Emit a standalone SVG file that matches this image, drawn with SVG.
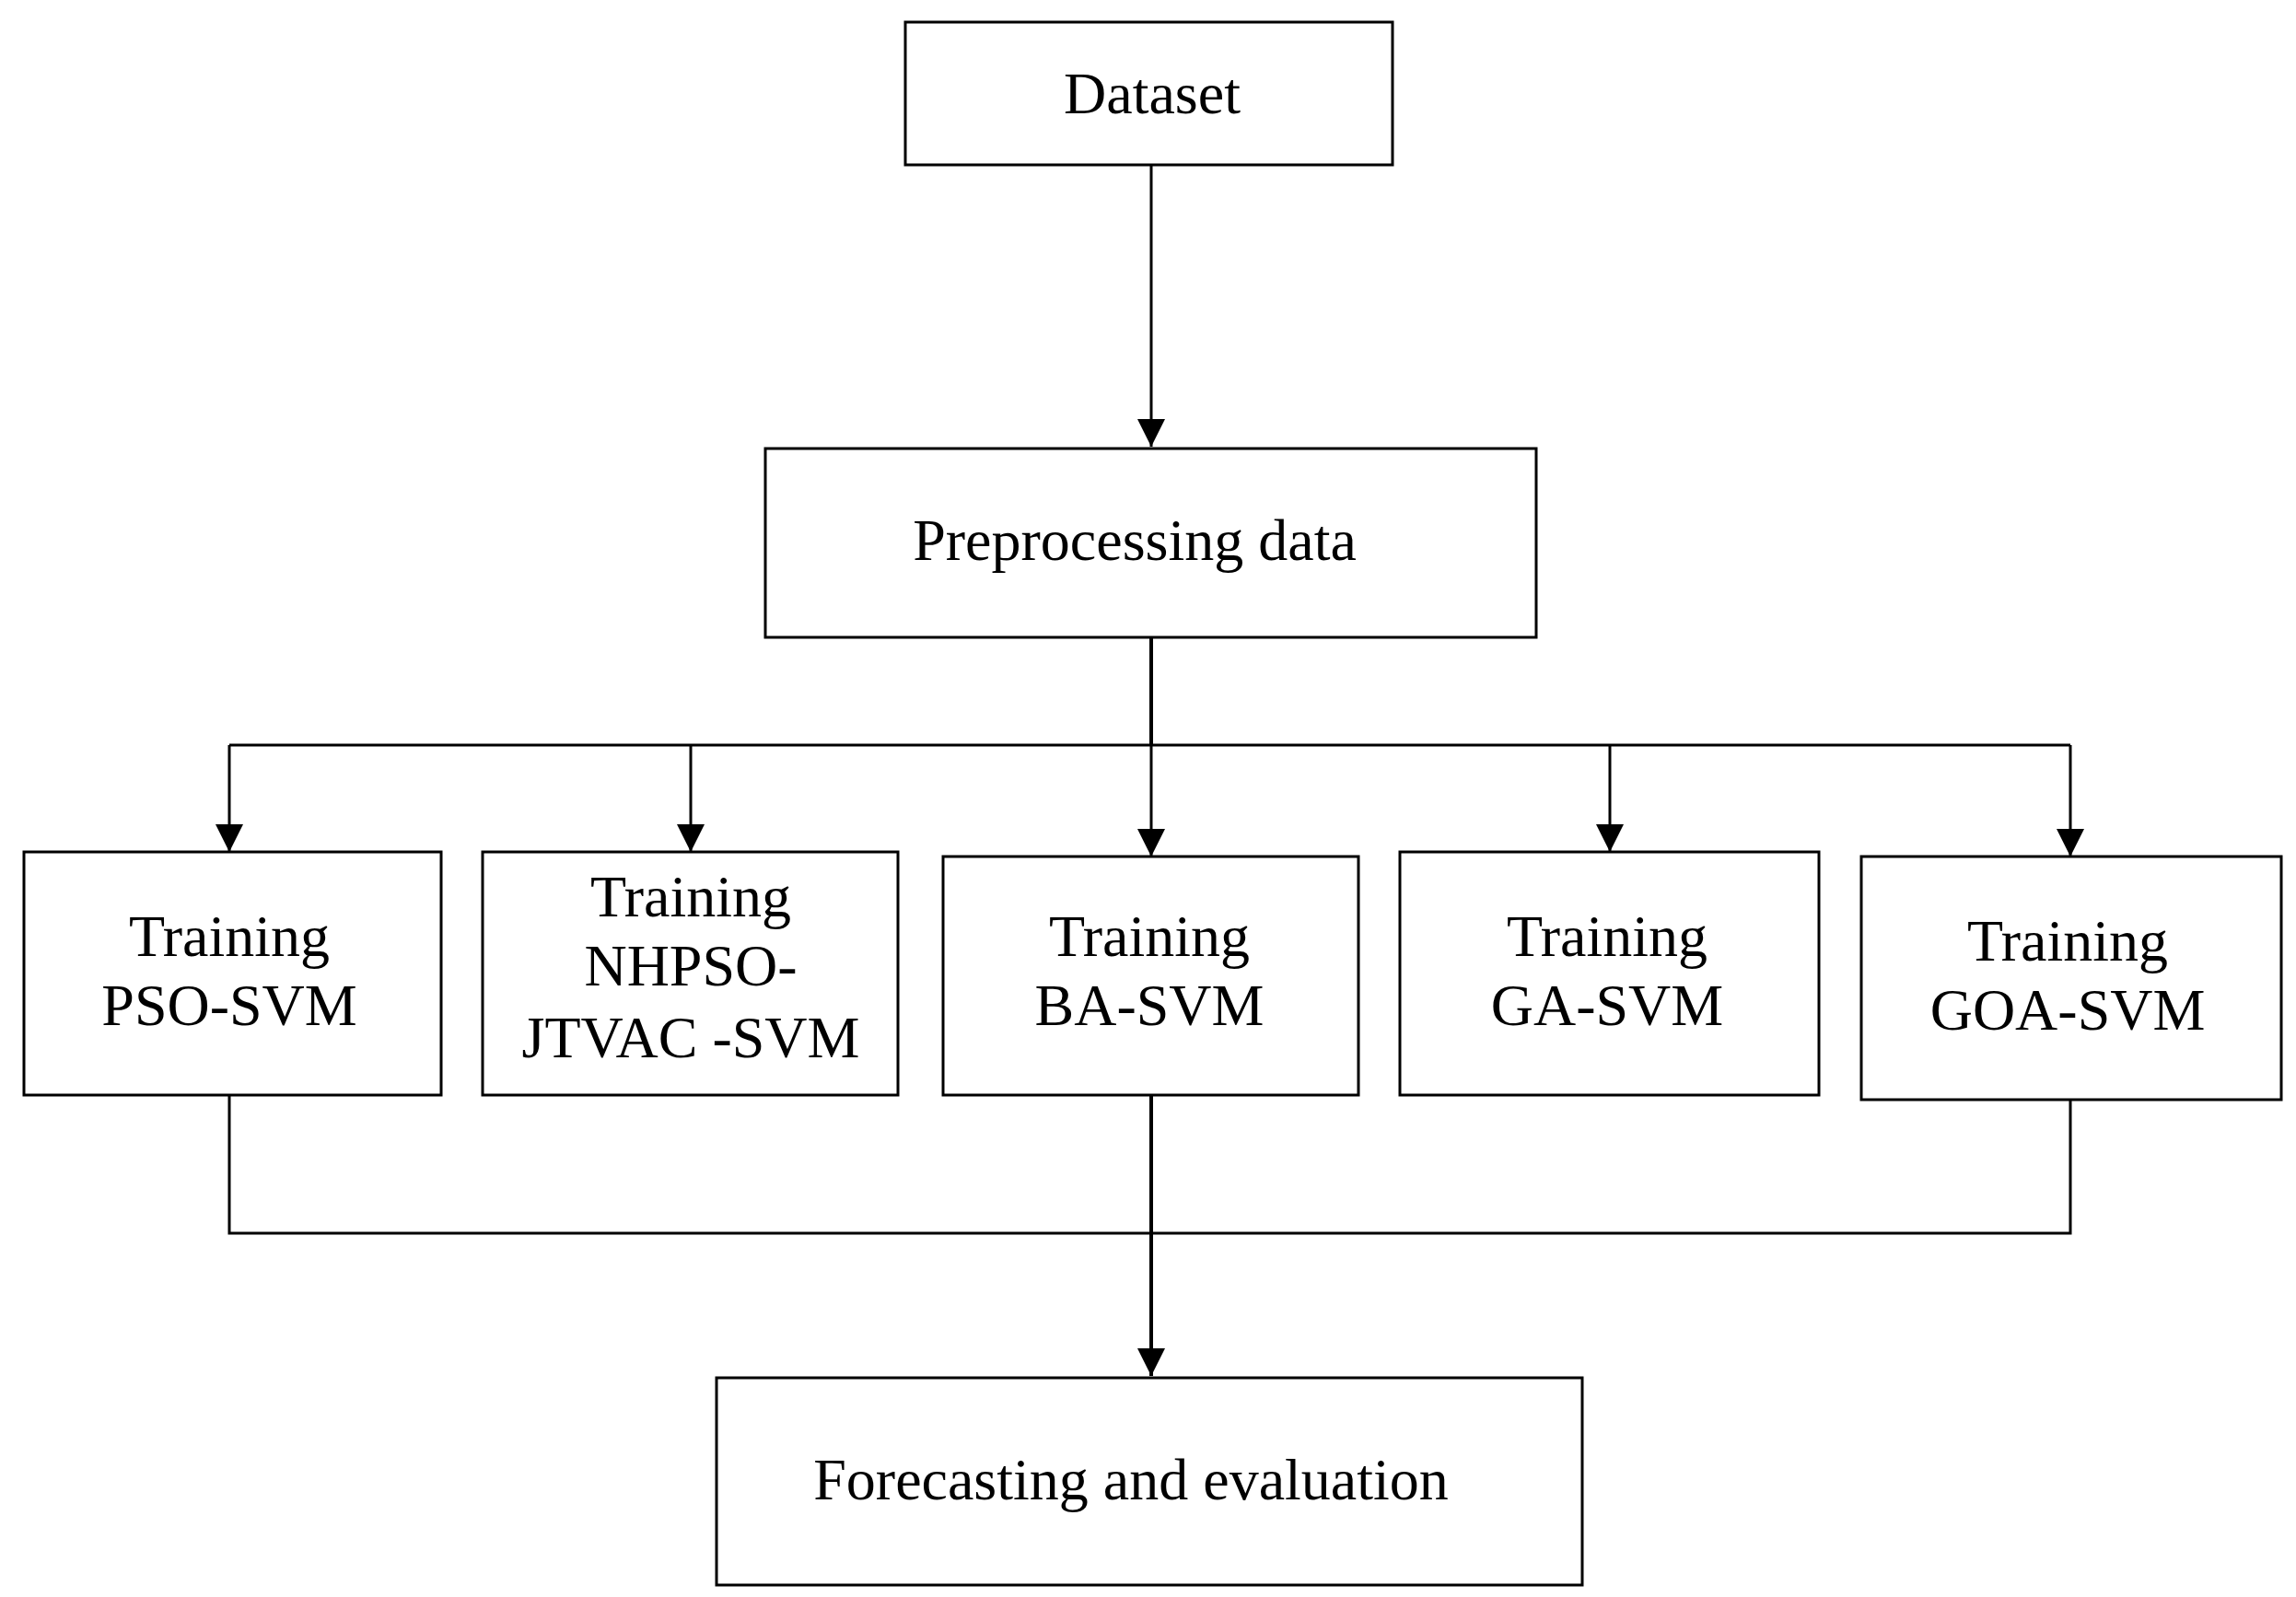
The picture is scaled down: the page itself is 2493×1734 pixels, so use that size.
<svg xmlns="http://www.w3.org/2000/svg" width="2493" height="1734" viewBox="0 0 2493 1734">
<style>
.b{fill:#fff;stroke:#000;stroke-width:3}
.t{font-family:"Liberation Serif",serif;font-size:64px;text-anchor:middle;fill:#000}
.c{fill:none;stroke:#000;stroke-width:3}
</style>
<defs><marker id="a" markerWidth="10" markerHeight="10" refX="9" refY="5" orient="auto" markerUnits="userSpaceOnUse" viewBox="0 0 10 10"><path d="M0,0L10,5L0,10z"/></marker>
<marker id="ah" viewBox="0 0 10 10" refX="10" refY="5" markerWidth="30" markerHeight="30" markerUnits="userSpaceOnUse" orient="auto"><path d="M0,0L10,5L0,10z"/></marker></defs>
<rect width="2493" height="1734" fill="#fff"/>
<g id="connectors">
<path class="c" d="M1250,179V485" marker-end="url(#ah)"/>
<path class="c" d="M1250,692V809" style="stroke-width:4"/>
<path class="c" d="M249,809H2248"/>
<path class="c" d="M249,809V925" marker-end="url(#ah)"/>
<path class="c" d="M750,809V925" marker-end="url(#ah)"/>
<path class="c" d="M1250,809V930" marker-end="url(#ah)"/>
<path class="c" d="M1748,809V925" marker-end="url(#ah)"/>
<path class="c" d="M2248,809V930" marker-end="url(#ah)"/>
<path class="c" d="M249,1189V1339H2248V1194"/>
<path class="c" d="M1250,1189V1494" style="stroke-width:4" marker-end="url(#ah)"/>
</g>
<g id="dataset"><rect class="b" x="983" y="24" width="529" height="155"/><text class="t" x="1251" y="123">Dataset</text></g>
<g id="preprocessing"><rect class="b" x="831" y="487" width="837" height="205"/><text class="t" x="1232" y="608">Preprocessing data</text></g>
<g id="pso"><rect class="b" x="26" y="925" width="453" height="264"/><text class="t" x="249" y="1038">Training</text><text class="t" x="249" y="1113">PSO-SVM</text></g>
<g id="nhpso"><rect class="b" x="524" y="925" width="451" height="264"/><text class="t" x="750" y="995">Training</text><text class="t" x="750" y="1070">NHPSO-</text><text class="t" x="750" y="1148">JTVAC -SVM</text></g>
<g id="ba"><rect class="b" x="1024" y="930" width="451" height="259"/><text class="t" x="1248" y="1038">Training</text><text class="t" x="1248" y="1113">BA-SVM</text></g>
<g id="ga"><rect class="b" x="1520" y="925" width="455" height="264"/><text class="t" x="1745" y="1038">Training</text><text class="t" x="1745" y="1113">GA-SVM</text></g>
<g id="goa"><rect class="b" x="2021" y="930" width="456" height="264"/><text class="t" x="2245" y="1043">Training</text><text class="t" x="2245" y="1118">GOA-SVM</text></g>
<g id="forecast"><rect class="b" x="778" y="1496" width="940" height="225"/><text class="t" x="1228" y="1628">Forecasting and evaluation</text></g>
</svg>
